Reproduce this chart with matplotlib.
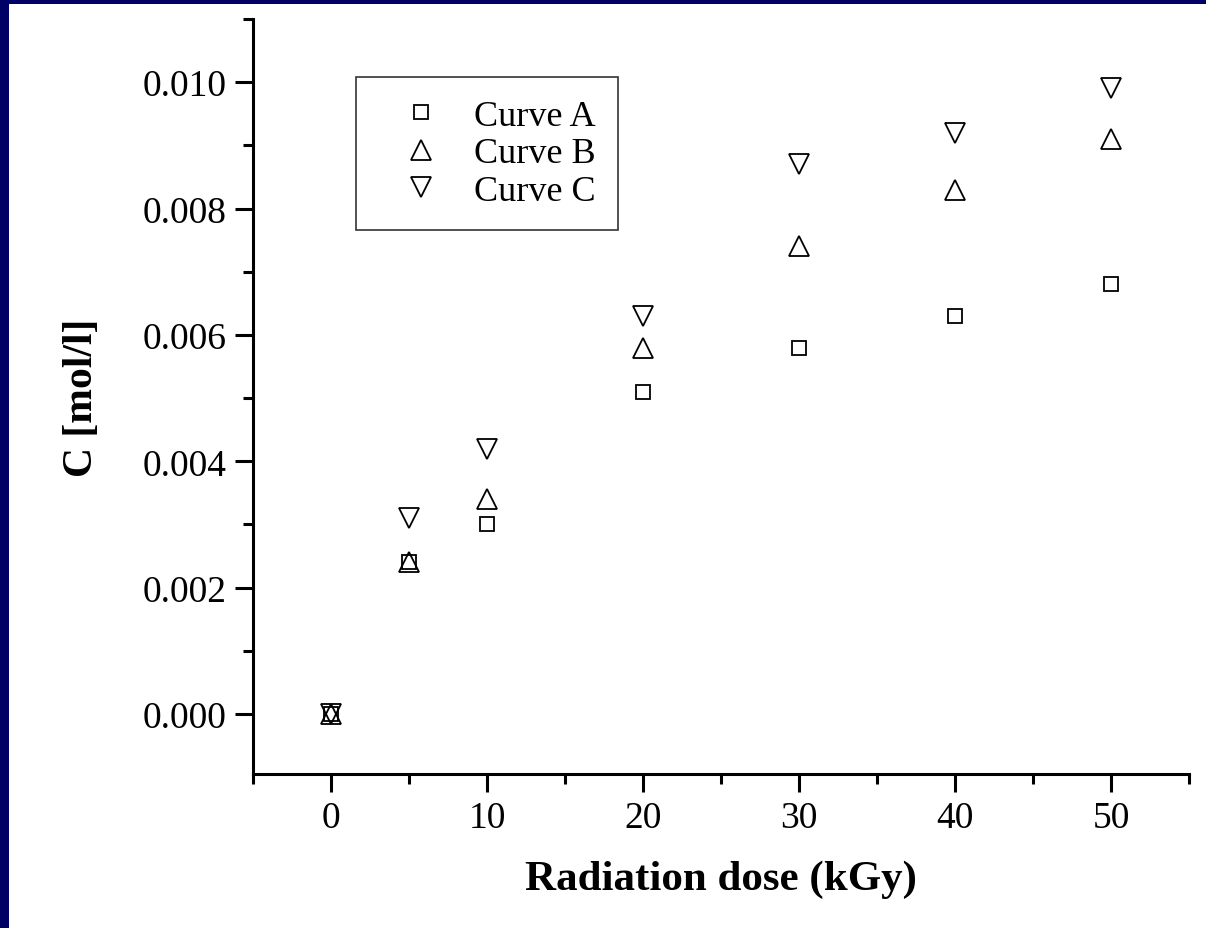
import numpy as np
import matplotlib
matplotlib.use("Agg")
import matplotlib.pyplot as plt
from matplotlib.patches import Rectangle
from matplotlib.ticker import MultipleLocator, FormatStrFormatter

# dose values and concentrations
dose = [0, 5, 10, 20, 30, 40, 50]
curve_a = [0.0, 0.0024, 0.0030, 0.0051, 0.0058, 0.0063, 0.0068]
curve_b = [0.0, 0.0024, 0.0034, 0.0058, 0.0074, 0.0083, 0.0091]
curve_c = [0.0, 0.0031, 0.0042, 0.0063, 0.0087, 0.0092, 0.0099]
labels = ["Curve A", "Curve B", "Curve C"]

plt.rcParams["font.family"] = ["Liberation Serif", "DejaVu Serif"]

fig = plt.figure(figsize=(12.06, 9.29), dpi=100)
fig.patch.set_facecolor("white")

# navy frame on left and top edges
navy = "#000066"
fig.patches.append(Rectangle((0, 0), 9 / 1206, 1, transform=fig.transFigure,
                             facecolor=navy, edgecolor="none", zorder=-1))
fig.patches.append(Rectangle((0, 1 - 5 / 929), 1, 5 / 929, transform=fig.transFigure,
                             facecolor=navy, edgecolor="none", zorder=-1))

ax = fig.add_axes([253 / 1206, (929 - 775) / 929, (1189 - 253) / 1206, (775 - 20) / 929])

mk = dict(linestyle="none", markerfacecolor="none", markeredgecolor="black",
          markeredgewidth=1.3)
ax.plot(dose, curve_a, marker="s", markersize=10, label=labels[0], **mk)
ax.plot(dose, curve_b, marker="^", markersize=14, label=labels[1], **mk)
ax.plot(dose, curve_c, marker="v", markersize=14, label=labels[2], **mk)

ax.set_xlim(-5, 55)
ax.set_ylim(-0.00095, 0.011)
ax.xaxis.set_minor_locator(MultipleLocator(5))
ax.yaxis.set_minor_locator(MultipleLocator(0.001))
ax.set_xticks([0, 10, 20, 30, 40, 50])
ax.set_yticks([0, 0.002, 0.004, 0.006, 0.008, 0.010])
ax.yaxis.set_major_formatter(FormatStrFormatter("%.3f"))

for s in ["top", "right"]:
    ax.spines[s].set_visible(False)
for s in ["left", "bottom"]:
    ax.spines[s].set_linewidth(2.2)

ax.tick_params(which="major", direction="out", length=13, width=2.2,
               labelsize=27, pad=6)
ax.tick_params(which="minor", direction="out", length=7, width=2.2)

ax.set_xlabel("Radiation dose (kGy)", fontsize=31, fontweight="bold", labelpad=18)
ax.set_ylabel("C [mol/l]", fontsize=30, fontweight="bold", labelpad=30)

leg = ax.legend(loc="upper left", fontsize=26, frameon=True, fancybox=False,
                handletextpad=0.3, borderpad=0.62, labelspacing=0.12,
                handlelength=2.35, borderaxespad=0)
leg.get_frame().set_edgecolor("black")
leg.get_frame().set_linewidth(1.2)
leg.set_bbox_to_anchor(((356 - 253) / 936, (775 - 78) / 755), transform=ax.transAxes)

fig.savefig("out.png", dpi=100, facecolor="white")
